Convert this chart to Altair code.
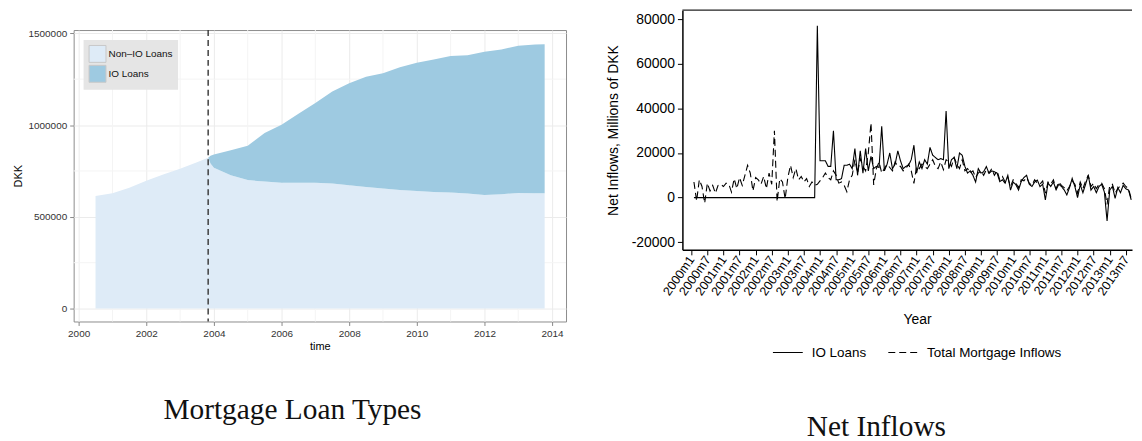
import altair as alt
import pandas as pd

# ---------------- Left panel: Mortgage Loan Types ----------------
loan_years = [2000.5, 2001.0, 2001.5, 2002.0, 2002.5, 2003.0, 2003.5, 2003.83, 2003.9,
              2004.0, 2004.5, 2005.0, 2005.5, 2006.0, 2006.5, 2007.0, 2007.5, 2008.0,
              2008.5, 2009.0, 2009.5, 2010.0, 2010.5, 2011.0, 2011.5, 2012.0, 2012.5,
              2013.0, 2013.5, 2013.78]
non_io = [613000, 628000, 659000, 697000, 731000, 762000, 798000, 822000, 790000,
          767000, 726000, 700000, 692000, 686000, 686000, 686000, 681000, 672000,
          663000, 654000, 646000, 641000, 635000, 632000, 627000, 619000, 623000,
          630000, 628000, 628000]
io = [0, 0, 0, 0, 0, 0, 0, 0, 43000,
      73000, 137000, 188000, 265000, 316000, 376000, 434000, 502000, 556000,
      601000, 628000, 669000, 699000, 723000, 744000, 754000, 780000, 789000,
      802000, 811000, 813000]
loan_types = ["Non\u2013IO Loans", "IO Loans"]
loan_colors = ["#DEEBF7", "#9ECAE1"]
io_start = [2003.83]
year_ticks = [2000, 2002, 2004, 2006, 2008, 2010, 2012, 2014]
minor_years = [2001, 2003, 2005, 2007, 2009, 2011, 2013]
dkk_ticks = [0, 500000, 1000000, 1500000]
dkk_minor = [250000, 750000, 1250000]

# ---------------- Right panel: Net Inflows ----------------
months = list(range(1, 165))  # months since 2000m1
io_flows = [
    0, 0, 0, 0, 0, 0, 0, 0, 0, 0, 0, 0,
    0, 0, 0, 0, 0, 0, 0, 0, 0, 0, 0, 0,
    0, 0, 0, 0, 0, 0, 0, 0, 0, 0, 0, 0,
    0, 0, 0, 0, 0, 0, 0, 0, 0, 0,
    77000,
    16500, 16500, 16500, 14000, 14000, 30000, 8000, 8000, 8500, 14500, 14500,
    15000, 13000, 22000, 10000, 21000, 11000, 22000, 12000, 18500, 13000, 14000, 13500,
    32000, 12000, 15000, 20000, 13000, 15000, 21000, 16500, 13000, 14000, 14500, 17000,
    23500, 11000, 16000, 13000, 17000, 15000, 22500, 19000, 18000, 17000, 17500, 17000,
    38800, 13000, 17000, 18000, 13000, 20000, 19000, 14000, 11000, 12000, 10000, 7000,
    13000, 11000, 11600, 13900, 10900, 12000, 11600, 11000, 7200, 8000, 6500, 10000,
    3400, 7000, 5800, 3400, 7200, 9000, 10000, 6000, 5000, 7000, 7900, 5000,
    6000, -1000, 6500, 5000, 7000, 3500, 6000, 5000, 3500, 1200, 4500, 8600,
    5000, 0, 5800, 2200, 6000, 10000, 3400, 5000, 2200, 5000, 6000, 2500,
    -10400, 3400, 5000, -300, 4500, 2200, 5500, 4000, 3400, -1000,
]
total_flows = [
    7000, -1500, 8000, 5000, -2500, 6500, 3000, 5500, 2000, 5500, 6000, 5000,
    6500, 6000, 2500, 8500, 4000, 9000, 5500, 10000, 14500, 11000, 3000, 9000,
    8000, 6000, 9500, 4000, 11000, 6000, 30000, -1800, 8500, 7000, -500, 9000,
    14500, 9000, 13000, 8000, 9500, 7000, 8500, 5000, 7000, 5500,
    6000, 7500, 9000, 11000, 9000, 8000, 12000, 10000, 6500, 7000, 5500, 2700,
    8000, 10000, 17000, 11000, 17500, 14000, 12000, 20000, 33500, 5700, 13000, 16000,
    11000, 13000, 15000, 13500, 12000, 16000, 14000, 14000, 12000, 13000, 15000, 12000,
    6400, 14000, 13000, 15000, 14000, 13000, 15000, 17000, 14000, 13000, 16000, 12500,
    17000, 16000, 14000, 18000, 15000, 13000, 17000, 12000, 13000, 11000, 12000, 9000,
    11000, 12000, 10000, 12500, 11000, 13000, 10000, 12000, 8000, 9500, 7000, 9000,
    5000, 8000, 6500, 4500, 8000, 7500, 9000, 6500, 5500, 8000, 6500, 6000,
    7500, 2000, 7000, 6000, 8000, 4000, 7000, 5500, 4500, 3000, 5000, 7500,
    6000, 2000, 7000, 4000, 7500, 10000, 5000, 6500, 4000, 6000, 6500, 4000,
    -3000, 5500, 6000, 2000, 4000, 5500, 6500, 5000, 4000, -500,
]
flow_series = ["IO Loans", "Total Mortgage Inflows"]
month_ticks = list(range(0, 163, 6))
flow_ticks = [-20000, 0, 20000, 40000, 60000, 80000]

captions = ["Mortgage Loan Types", "Net Inflows"]

SANS = "Liberation Sans"
SERIF = "Liberation Serif"

# ---------- build left ----------
LW, LH = 495, 293
df_non = pd.DataFrame({"year": loan_years, "lo": [0] * len(loan_years), "hi": non_io,
                       "type": loan_types[0]})
df_io = pd.DataFrame({"year": loan_years, "lo": non_io,
                      "hi": [a + b for a, b in zip(non_io, io)], "type": loan_types[1]})

xL_scale = alt.Scale(domain=[1999.853, 2014.412], nice=False, zero=False)
yL_scale = alt.Scale(domain=[-70400, 1517900], nice=False, zero=False)
color_scale = alt.Scale(domain=loan_types, range=loan_colors)

xL_axis = alt.Axis(values=year_ticks, format="d", title="time", titleFontSize=11,
                   titleFontWeight="normal", titleColor="#000", titlePadding=2,
                   labelFontSize=10, labelColor="#333", labelPadding=3, tickSize=4,
                   tickColor="#888", domain=False, grid=True, gridColor="#EBEBEB",
                   labelFont=SANS, titleFont=SANS)
yL_axis = alt.Axis(values=dkk_ticks, format="d", title="DKK", titleFontSize=11,
                   titleFontWeight="normal", titleColor="#000", titlePadding=4,
                   labelFontSize=10, labelColor="#333", labelPadding=3, tickSize=4,
                   tickColor="#888", domain=False, grid=True, gridColor="#EBEBEB",
                   labelFont=SANS, titleFont=SANS)

minor_x = alt.Chart(pd.DataFrame({"v": minor_years})).mark_rule(
    color="#F4F4F4", strokeWidth=1).encode(x=alt.X("v:Q", scale=xL_scale, axis=xL_axis))
minor_y = alt.Chart(pd.DataFrame({"v": dkk_minor})).mark_rule(
    color="#F4F4F4", strokeWidth=1).encode(y=alt.Y("v:Q", scale=yL_scale, axis=yL_axis))

legend_left = alt.Legend(title=None, orient="none", legendX=10, legendY=10,
                         fillColor="#E5E5E5", padding=5, symbolType="square",
                         symbolSize=289, symbolStrokeColor="#C8C8C8",
                         symbolStrokeWidth=1, symbolOpacity=1, rowPadding=-2,
                         labelFontSize=10, labelFont=SANS, labelColor="#111",
                         labelOffset=2)

def area_layer(df):
    return alt.Chart(df).mark_area(opacity=1, interpolate="linear").encode(
        x=alt.X("year:Q", scale=xL_scale, axis=xL_axis),
        y=alt.Y("hi:Q", scale=yL_scale, axis=yL_axis),
        y2="lo:Q",
        color=alt.Color("type:N", scale=color_scale, legend=legend_left),
    )

vline = alt.Chart(pd.DataFrame({"x": io_start})).mark_rule(
    color="#333", strokeDash=[6, 4], strokeWidth=1.4).encode(x=alt.X("x:Q", scale=xL_scale))

cap_left = alt.Chart(pd.DataFrame({"t": [captions[0]]})).mark_text(
    font=SERIF, fontSize=29.5, color="#111", baseline="alphabetic", align="center").encode(
    text="t:N", x=alt.value(220), y=alt.value(391))

left_plot = alt.layer(minor_x, minor_y, area_layer(df_non), area_layer(df_io), vline, cap_left).properties(
    width=LW, height=LH,
    view=alt.ViewBackground(stroke="#8C8C8C", strokeWidth=1),
)

spacer = alt.Chart(pd.DataFrame({"a": [0]})).mark_rule(opacity=0).encode(
    x=alt.value(0), x2=alt.value(2), y=alt.value(1)).properties(
    width=LW, height=1, view=alt.ViewBackground(stroke=None))

left = alt.vconcat(spacer, left_plot, spacing=16).resolve_legend(color="independent")

# ---------- build right ----------
RW, RH = 452, 241
df_flow = pd.concat([
    pd.DataFrame({"month": months, "value": total_flows, "series": flow_series[1]}),
    pd.DataFrame({"month": months, "value": io_flows, "series": flow_series[0]}),
])
xR_scale = alt.Scale(domain=[-3.3, 164.3], nice=False, zero=False)
yR_scale = alt.Scale(domain=[-23400, 84000], nice=False, zero=False)

xR_axis = alt.Axis(values=month_ticks, title="Year", titleFontSize=14,
                   titleFontWeight="normal", titleColor="#000", titleFont=SANS,
                   labelExpr="(2000 + floor(datum.value / 12)) + 'm' + (datum.value % 12 + 1)",
                   labelAngle=-55, labelFontSize=12.5, labelFont=SANS, labelColor="#000",
                   labelPadding=2, tickSize=5, tickColor="#000", domainColor="#000",
                   domainWidth=1.5, grid=False, titlePadding=15, titleX=236,
                   labelOverlap=False)
yR_axis = alt.Axis(values=flow_ticks, title="Net Inflows, Millions of DKK", titleFontSize=14,
                   titleFontWeight="normal", titleColor="#000", titleFont=SANS,
                   labelExpr="replace(format(datum.value, 'd'), '\u2212', '-')",
                   labelFontSize=14, labelFont=SANS, labelColor="#000", labelPadding=3,
                   tickSize=5, tickColor="#000", domainColor="#000", domainWidth=1.5,
                   grid=False, titlePadding=11)

lines = alt.Chart(df_flow).mark_line(color="#000", strokeWidth=1.1).encode(
    x=alt.X("month:Q", scale=xR_scale, axis=xR_axis),
    y=alt.Y("value:Q", scale=yR_scale, axis=yR_axis),
    strokeDash=alt.StrokeDash(
        "series:N",
        scale=alt.Scale(domain=flow_series, range=[[1, 0], [7, 4]]),
        legend=alt.Legend(title=None, orient="none", direction="horizontal",
                          legendX=90, legendY=328, symbolType="stroke",
                          symbolSize=900, symbolStrokeColor="#000",
                          symbolStrokeWidth=1.1, labelFontSize=13.5, labelFont=SANS,
                          labelColor="#000", labelOffset=8, columnPadding=19)),
    order=alt.Order("series:N", sort="descending"),
)

top_line = alt.Chart(pd.DataFrame({"a": [0]})).mark_rule(color="#222", strokeWidth=1.2).encode(
    x=alt.value(0), x2=alt.value(RW), y=alt.value(0))

cap_right = alt.Chart(pd.DataFrame({"t": [captions[1]]})).mark_text(
    font=SERIF, fontSize=29.5, color="#111", baseline="alphabetic", align="center").encode(
    text="t:N", x=alt.value(195), y=alt.value(428))

right = alt.layer(lines, top_line, cap_right).properties(
    width=RW, height=RH, view=alt.ViewBackground(stroke=None))

chart = alt.hconcat(left, right, spacing=39).resolve_legend(
    color="independent", strokeDash="independent"
).properties(
    padding={"left": 4, "top": 0, "right": 0, "bottom": 0}
).configure_view(stroke=None).configure(font=SANS, background="white")

chart.save("out.html", embed_options={"renderer": "svg", "actions": False})
